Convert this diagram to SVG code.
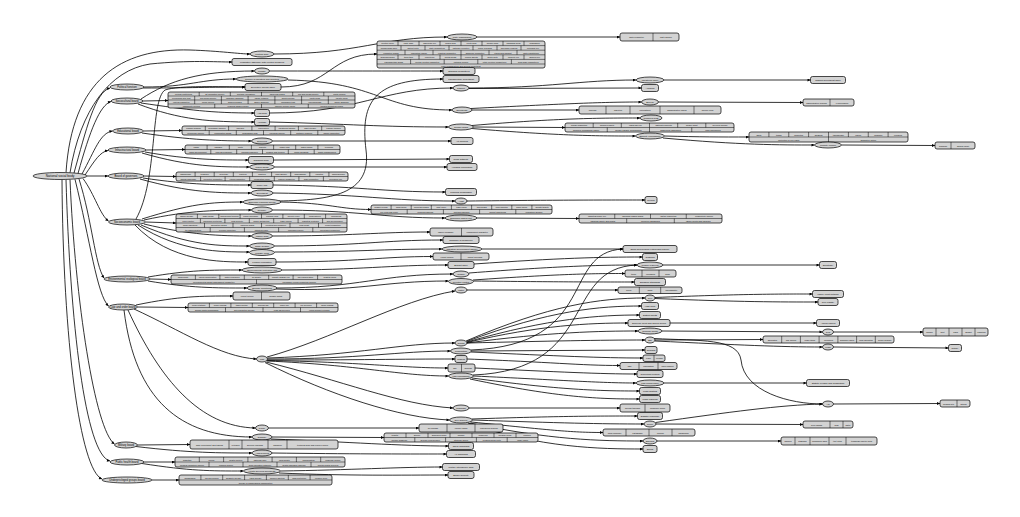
<svg xmlns="http://www.w3.org/2000/svg" width="1020" height="517" viewBox="0 0 1020 517">
<defs>
<marker id="a" viewBox="0 0 10 10" refX="10" refY="5" markerWidth="4" markerHeight="3" orient="auto" markerUnits="userSpaceOnUse"><path d="M0,0L10,5L0,10z" fill="#000"/></marker>
<style>
.n ellipse,.n rect{fill:#d3d3d3;stroke:#000;stroke-width:.7}
.n path{fill:none;stroke:#000;stroke-width:.5}
text{font-family:"Liberation Sans",Arial,sans-serif;font-size:2.3px;text-anchor:middle;dominant-baseline:central;fill:#000}
.r text{font-size:2.1px}
.k text{font-size:2.7px}
#n0 text{font-size:3.2px}
#edges path{fill:none;stroke:#000;stroke-width:.8;marker-end:url(#a)}
</style>
</defs>
<rect width="1020" height="517" fill="#fff"/>
<g id="edges">
<path d="M66,172.6 C72,80 120,48 190,50 C220,51 240,54 250,54"/>
<path d="M70,172.8 C80,110 110,70 150,64 C190,60 215,62 232,62"/>
<path d="M74,173 C86,130 95,92 110,88"/>
<path d="M78,173.5 C90,130 100,105 111,101.5"/>
<path d="M82,174 C95,150 100,133 112.5,131"/>
<path d="M85,175 C95,160 100,152 108,150.5"/>
<path d="M87,176 L108,176"/>
<path d="M83,178.5 C95,195 100,215 108.5,221"/>
<path d="M79,179 C92,220 95,265 104,278"/>
<path d="M75,179.3 C90,240 97,295 108.5,306"/>
<path d="M70,179.4 C75,300 95,430 114.5,444"/>
<path d="M66,179.5 C70,320 85,455 110,461"/>
<path d="M62,179.5 C63,340 80,470 102,479"/>
<path d="M144,87 C190,87 200,79 236,79"/>
<path d="M143,88 C190,88 210,87 245,87"/>
<path d="M143,101 L168,100.5"/>
<path d="M141,99 C170,80 200,71 254.5,71"/>
<path d="M141,103 C190,110 210,113 254.5,113"/>
<path d="M138,104 C180,120 210,122 254.5,122"/>
<path d="M143.5,131 L182,130.5"/>
<path d="M142,133 C190,140 220,141 251.5,141"/>
<path d="M146,150 L185,149.5"/>
<path d="M145,152 C190,160 220,160 248.5,160"/>
<path d="M142,153 C190,167 220,167 249.5,167"/>
<path d="M144,176 L176,176.5"/>
<path d="M143,178 C190,185 220,185 251,185"/>
<path d="M140,179 C190,193 220,193 251,193"/>
<path d="M145.5,222 L176,223"/>
<path d="M142,219 C190,204 210,202 243,202"/>
<path d="M144,220 C190,210 220,210 251.5,210"/>
<path d="M144,224 C190,235 220,236 251.5,236"/>
<path d="M141,225 C190,246 220,246 249.5,246"/>
<path d="M138,225 C180,252 220,252 249.5,252"/>
<path d="M135,225 C170,262 220,262 248,262"/>
<path d="M136,219 C158,180 150,100 165,90 C180,85 220,87 245,87"/>
<path d="M150,279 L171,279.5"/>
<path d="M148,277 C190,270 210,270 242,270"/>
<path d="M148,281 C190,288 215,288 247,288"/>
<path d="M137.5,307 L188,307.5"/>
<path d="M136,305 C180,296 200,296 233,296"/>
<path d="M134,309 C180,330 220,357 256.5,359"/>
<path d="M128,310 C160,380 200,427 255.5,428"/>
<path d="M124,310 C135,400 180,437 252,437"/>
<path d="M137.5,445 L190,444.5"/>
<path d="M136,446.5 C190,453 220,453 252,453"/>
<path d="M144,462 L175,462"/>
<path d="M142,463.5 C190,471 210,471 243.5,471"/>
<path d="M152,480 L179,480"/>
<path d="M274,54 C360,54 380,37 447,37"/>
<path d="M281,87 C330,87 330,54 377,54"/>
<path d="M269.5,71 C350,71 380,71 443,71"/>
<path d="M288,80 C380,82 380,110 452,110"/>
<path d="M269.5,113 C360,113 380,88 453,88"/>
<path d="M269.5,122 C350,124 380,127 448.5,127"/>
<path d="M272.5,141 L451,141"/>
<path d="M273.5,160 L449.5,159"/>
<path d="M274.5,167 L447,167"/>
<path d="M273,185 C360,186 380,192 445.5,192"/>
<path d="M273,193 C360,194 390,201 455,201"/>
<path d="M281,202 C330,203 340,209.5 371,209.5"/>
<path d="M279,201 C330,200 372,195 366,150 C360,100 375,79 443,79"/>
<path d="M272.5,210 C360,210 380,218 445,218"/>
<path d="M272.5,236 C350,236 380,232 430,232"/>
<path d="M274.5,246 C360,246 380,240 443,240"/>
<path d="M274.5,252 C360,252 380,249 442,249"/>
<path d="M276,262 C360,262 380,256.5 433,256.5"/>
<path d="M282,270 C360,270 390,265 448,265"/>
<path d="M277,288 C360,288 380,274 453,274"/>
<path d="M276,289 C360,292 380,281 448.5,281"/>
<path d="M267,357 C330,340 400,300 455,291"/>
<path d="M267.5,358 C360,355 400,343 455,343"/>
<path d="M267.5,359 C360,359 400,351 450.5,351"/>
<path d="M267.5,360 C360,360 400,359 455,359"/>
<path d="M267,360.5 C360,362 400,368 448,368"/>
<path d="M267,361 C360,365 400,376 448.5,376"/>
<path d="M266,362 C340,380 400,405 453,408"/>
<path d="M265,362.5 C330,395 400,418 449.5,420"/>
<path d="M268.5,428 L419,428"/>
<path d="M272,437 L384,437.5"/>
<path d="M271,439 C350,442 400,446 448.5,446"/>
<path d="M272,453 C350,454 400,454 446.5,454"/>
<path d="M280.5,471 C350,470 400,467 442.5,467"/>
<path d="M279,473 C350,476 400,475 448,475"/>
<path d="M477,37 L620,37"/>
<path d="M469,88 C550,88 580,80 636,80"/>
<path d="M469,88.5 L641.5,88"/>
<path d="M472,110 L579,110"/>
<path d="M471,108.5 C560,104 600,102 641.5,102"/>
<path d="M473.5,127 L565,127.5"/>
<path d="M472,125.5 C560,118 600,118 640,118"/>
<path d="M472,128.5 C560,136 600,136 635.5,136"/>
<path d="M467,201 C560,200 600,200 645,200"/>
<path d="M477,218 L579,218.5"/>
<path d="M482,249 L623,249"/>
<path d="M474,264 C560,258 600,257 642.5,257"/>
<path d="M469,273 C560,266 600,265 637,265"/>
<path d="M473,280 C560,274 590,273.5 625,273.5"/>
<path d="M473.5,281 C560,282 600,282 634.5,282"/>
<path d="M467,290 L618,290"/>
<path d="M466,341 C550,305 600,298 645,298"/>
<path d="M466.5,341.5 C550,310 600,306 641.5,306"/>
<path d="M467,342 C550,318 600,315 639.5,315"/>
<path d="M467,342.5 C540,325 590,323 628,323"/>
<path d="M467,343 C550,332 600,331 638,331"/>
<path d="M467,343 C550,341 600,340 645,340"/>
<path d="M471.5,351 L645,350"/>
<path d="M471,352 C560,356 600,358 643,358"/>
<path d="M467,359 C550,362 580,365.5 620,365.5"/>
<path d="M475,368 C560,372 600,374 637,374"/>
<path d="M473.5,376 C560,380 600,383 636,383"/>
<path d="M472,378 C560,390 600,391 639.5,391"/>
<path d="M470,379 C560,398 600,399 639.5,399"/>
<path d="M469,408 L620,408"/>
<path d="M472,419 C560,416 600,416 637.5,416"/>
<path d="M472.5,420 C560,423 600,424 644,424"/>
<path d="M471,422 C550,430 570,432.5 603,432.5"/>
<path d="M470,423 C550,440 600,441 643,441"/>
<path d="M468,423 C540,448 600,449 643,449"/>
<path d="M473,375 C600,370 560,268 637,265"/>
<path d="M471,350 C600,345 560,252 623,249"/>
<path d="M664,80 L810.5,80"/>
<path d="M658.5,102 L803,102.5"/>
<path d="M664.5,136 C700,137 720,137 749,137"/>
<path d="M663,138 C740,145 780,145 814.5,145"/>
<path d="M841.5,145 L935,145.5"/>
<path d="M663,265 L819.5,265"/>
<path d="M655,297.5 C740,294 780,294 812.5,294"/>
<path d="M655,298.5 C740,302 780,302 818,302"/>
<path d="M670,323 L816.5,323"/>
<path d="M662,331 L822.5,332"/>
<path d="M833.5,332 L923,332"/>
<path d="M655,340 L763,339.5"/>
<path d="M655,341 C740,345 780,347 822.5,347"/>
<path d="M833.5,347 L948.5,348"/>
<path d="M654,338.5 C700,341 738,338 741,360 C744,392 790,404 822.5,404"/>
<path d="M664,383 L806.5,383"/>
<path d="M656,424 L803,424.5"/>
<path d="M655.5,422.5 C730,412 780,405 822.5,404"/>
<path d="M833.5,404 L940,403.5"/>
<path d="M657,441 L781,441"/>
</g>

<g id="n0" class="n"><ellipse cx="60" cy="176" rx="27" ry="3.5"/><text x="60" y="176">National social body</text></g>
<g id="L1a" class="n k"><ellipse cx="127" cy="87" rx="17" ry="3"/><text x="127" y="87">Political function</text></g>
<g id="L1b" class="n k"><ellipse cx="127" cy="101" rx="16" ry="3"/><text x="127" y="101">Sociocultural board</text></g>
<g id="L1c" class="n k"><ellipse cx="128" cy="131" rx="15.5" ry="3"/><text x="128" y="131">Educational board</text></g>
<g id="L1d" class="n k"><ellipse cx="127" cy="150" rx="19" ry="3"/><text x="127" y="150">Infrastructural board</text></g>
<g id="L1e" class="n k"><ellipse cx="126" cy="176" rx="18" ry="3"/><text x="126" y="176">Board of governors</text></g>
<g id="L1f" class="n k"><ellipse cx="127" cy="222" rx="18.5" ry="3"/><text x="127" y="222">Socioeconomic board</text></g>
<g id="L1g" class="n k"><ellipse cx="127" cy="279" rx="23" ry="3"/><text x="127" y="279">Environmental ecological board</text></g>
<g id="L1h" class="n k"><ellipse cx="123" cy="307" rx="14.5" ry="3"/><text x="123" y="307">Law and order board</text></g>
<g id="L1i" class="n k"><ellipse cx="126" cy="445" rx="11.5" ry="3"/><text x="126" y="445">Military board</text></g>
<g id="L1j" class="n k"><ellipse cx="127" cy="462" rx="17" ry="3"/><text x="127" y="462">Public health board</text></g>
<g id="L1k" class="n k"><ellipse cx="127" cy="480" rx="25" ry="3"/><text x="127" y="480">Underprivileged groups board</text></g>

<g id="A1" class="n"><ellipse cx="262" cy="54" rx="12" ry="3"/><text x="262" y="54">Political body</text></g>
<g id="A2" class="n"><rect x="232" y="58.5" width="60" height="7" rx="2"/><text x="262" y="62">Legislative assembly with elected members</text></g>
<g id="A3" class="n"><ellipse cx="262" cy="71" rx="7.5" ry="3"/><text x="262" y="71">Ministry</text></g>
<g id="A4" class="n"><ellipse cx="262" cy="79" rx="26" ry="3"/><text x="262" y="79">Council of ministers and deputies</text></g>
<g id="A5" class="n"><rect x="245" y="83.5" width="36" height="7" rx="2"/><text x="263" y="87">Executive council office</text></g>
<g id="A6" class="n"><rect x="254.5" y="109.5" width="15" height="7" rx="2"/><text x="262" y="113">Arts desk</text></g>
<g id="A7" class="n"><rect x="254.5" y="118.5" width="15" height="7" rx="2"/><text x="262" y="122">Heritage</text></g>
<g id="A8" class="n"><ellipse cx="262" cy="141" rx="10.5" ry="3"/><text x="262" y="141">Schooling</text></g>
<g id="A9" class="n"><rect x="248.5" y="156.5" width="25" height="7" rx="2"/><text x="261" y="160">Transport desk</text></g>
<g id="A10" class="n"><ellipse cx="262" cy="167" rx="12.5" ry="3"/><text x="262" y="167">Public works</text></g>
<g id="A11" class="n"><rect x="251" y="181.5" width="22" height="7" rx="2"/><text x="262" y="185">Policy unit</text></g>
<g id="A12" class="n"><ellipse cx="262" cy="193" rx="11" ry="3"/><text x="262" y="193">Secretariat</text></g>
<g id="A13" class="n"><ellipse cx="262" cy="202" rx="19" ry="3"/><text x="262" y="202">Economic planning council</text></g>
<g id="A14" class="n"><ellipse cx="262" cy="210" rx="10.5" ry="3"/><text x="262" y="210">Treasury</text></g>
<g id="A15" class="n"><ellipse cx="262" cy="236" rx="10.5" ry="3"/><text x="262" y="236">Labour desk</text></g>
<g id="A16" class="n"><ellipse cx="262" cy="246" rx="12.5" ry="3"/><text x="262" y="246">Trade division</text></g>
<g id="A17" class="n"><ellipse cx="262" cy="252.5" rx="12.5" ry="3"/><text x="262" y="252.5">Industry wing</text></g>
<g id="A18" class="n"><rect x="248" y="258.5" width="28" height="7" rx="2"/><text x="262" y="262">Finance committee</text></g>
<g id="A19" class="n"><ellipse cx="262" cy="270" rx="20" ry="3"/><text x="262" y="270">Environmental protection unit</text></g>
<g id="A20" class="n"><ellipse cx="262" cy="288" rx="15" ry="3"/><text x="262" y="288">Ecology monitoring</text></g>
<g id="A21" class="n"><ellipse cx="262" cy="359" rx="5.5" ry="3"/><text x="262" y="359">Law</text></g>
<g id="A22" class="n"><ellipse cx="262" cy="428" rx="6.5" ry="3"/><text x="262" y="428">Police</text></g>
<g id="A23" class="n"><ellipse cx="262" cy="437" rx="10" ry="3"/><text x="262" y="437">Judiciary</text></g>
<g id="A24" class="n"><ellipse cx="262" cy="453" rx="10" ry="3"/><text x="262" y="453">Armed forces</text></g>
<g id="A25" class="n"><ellipse cx="262" cy="471" rx="18.5" ry="3"/><text x="262" y="471">Health services directorate</text></g>

<g id="R1" class="n r"><rect x="168" y="92" width="187" height="16" rx="2"/><path d="M168 96H355M168 100H355M168 104H355M199.2 92V96M230.3 92V96M261.5 92V96M292.7 92V96M323.8 92V96M194.7 96V104M221.4 96V104M248.1 96V104M274.9 96V104M301.6 96V104M328.3 96V104M214.75 104V108M261.5 104V108M308.25 104V108"/>
<text x="183.6" y="94">cultural institutions</text><text x="214.8" y="94">art promotion society</text><text x="245.9" y="94">heritage foundation</text><text x="277.1" y="94">museums board</text><text x="308.2" y="94">film and media society</text><text x="339.4" y="94">crafts council</text>
<text x="181.4" y="98">performing arts trust</text><text x="208.1" y="98">folk music society</text><text x="234.8" y="98">language academy</text><text x="261.5" y="98">library network</text><text x="288.2" y="98">sports council</text><text x="314.9" y="98">youth clubs</text><text x="341.6" y="98">theatre guild</text>
<text x="181.4" y="102">festival committee</text><text x="208.1" y="102">press council</text><text x="234.8" y="102">archives board</text><text x="261.5" y="102">dance academy</text><text x="288.2" y="102">publishing trust</text><text x="314.9" y="102">cinema board</text><text x="341.6" y="102">music academy</text>
<text x="191.4" y="106">community centres</text><text x="238.1" y="106">religious affairs council</text><text x="284.9" y="106">minority culture forum</text><text x="331.6" y="106">tourism promotion board</text></g>

<g id="R2" class="n r"><rect x="182" y="126" width="163" height="9" rx="2"/><path d="M182 130.5H345M205.3 126V130.5M228.6 126V130.5M251.9 126V130.5M275.1 126V130.5M298.4 126V130.5M321.7 126V130.5M209.2 130.5V135M236.3 130.5V135M263.5 130.5V135M290.7 130.5V135M317.8 130.5V135"/>
<text x="193.6" y="128.25">primary schools</text><text x="216.9" y="128.25">secondary schools</text><text x="240.2" y="128.25">colleges</text><text x="263.5" y="128.25">universities</text><text x="286.8" y="128.25">vocational training</text><text x="310.1" y="128.25">adult literacy</text><text x="333.4" y="128.25">teacher training</text>
<text x="195.6" y="132.75">curriculum council</text><text x="222.7" y="132.75">examination board</text><text x="249.9" y="132.75">scholarship fund</text><text x="277.1" y="132.75">research council</text><text x="304.2" y="132.75">distance learning</text><text x="331.4" y="132.75">school inspection</text></g>

<g id="R3" class="n r"><rect x="185" y="145" width="155" height="9" rx="2"/><path d="M185 149.5H340M207.1 145V149.5M229.3 145V149.5M251.4 145V149.5M273.6 145V149.5M295.7 145V149.5M317.9 145V149.5M210.8 149.5V154M236.7 149.5V154M262.5 149.5V154M288.3 149.5V154M314.2 149.5V154"/>
<text x="196.1" y="147.25">roads</text><text x="218.2" y="147.25">railways</text><text x="240.4" y="147.25">ports</text><text x="262.5" y="147.25">airports</text><text x="284.6" y="147.25">power grid</text><text x="306.8" y="147.25">water supply</text><text x="328.9" y="147.25">telecoms</text>
<text x="197.9" y="151.75">urban development</text><text x="223.8" y="151.75">rural development</text><text x="249.6" y="151.75">housing schemes</text><text x="275.4" y="151.75">bridges and tunnels</text><text x="301.3" y="151.75">public buildings</text><text x="327.1" y="151.75">waste management</text></g>

<g id="R4" class="n r"><rect x="176" y="172" width="172" height="9" rx="2"/><path d="M176 176.5H348M195.1 172V176.5M214.2 172V176.5M233.3 172V176.5M252.4 172V176.5M271.6 172V176.5M290.7 172V176.5M309.8 172V176.5M328.9 172V176.5M200.6 176.5V181M225.1 176.5V181M249.7 176.5V181M274.3 176.5V181M298.9 176.5V181M323.4 176.5V181"/>
<text x="185.6" y="174.25">chairperson</text><text x="204.7" y="174.25">treasurer</text><text x="223.8" y="174.25">secretary</text><text x="242.9" y="174.25">trustees</text><text x="262" y="174.25">auditors</text><text x="281.1" y="174.25">legal adviser</text><text x="300.2" y="174.25">ombudsman</text><text x="319.3" y="174.25">registrar</text><text x="338.4" y="174.25">spokesperson</text>
<text x="188.3" y="178.75">annual assembly</text><text x="212.9" y="178.75">executive committee</text><text x="237.4" y="178.75">ethics committee</text><text x="262" y="178.75">nomination panel</text><text x="286.6" y="178.75">finance committee</text><text x="311.1" y="178.75">audit committee</text><text x="335.7" y="178.75">grievance cell</text></g>

<g id="R5" class="n r"><rect x="176" y="214" width="171" height="18" rx="2"/><path d="M176 218.5H347M176 223H347M176 227.5H347M197.4 214V218.5M218.8 214V218.5M240.1 214V218.5M261.5 214V218.5M282.9 214V218.5M304.3 214V218.5M325.6 214V218.5M200.4 218.5V223M224.9 218.5V223M249.3 218.5V223M273.7 218.5V223M298.1 218.5V223M322.6 218.5V223M204.5 223V227.5M233 223V227.5M261.5 223V227.5M290 223V227.5M318.5 223V227.5M210.2 227.5V232M244.4 227.5V232M278.6 227.5V232M312.8 227.5V232"/>
<text x="186.7" y="216.25">labour welfare</text><text x="208.1" y="216.25">wage board</text><text x="229.4" y="216.25">employment bureau</text><text x="250.8" y="216.25">social insurance</text><text x="272.2" y="216.25">pension fund</text><text x="293.6" y="216.25">poverty relief</text><text x="314.9" y="216.25">cooperatives</text><text x="336.3" y="216.25">microcredit</text>
<text x="188.2" y="220.75">price control</text><text x="212.6" y="220.75">consumer protection</text><text x="237.1" y="220.75">food security</text><text x="261.5" y="220.75">public distribution</text><text x="285.9" y="220.75">trade unions</text><text x="310.4" y="220.75">industrial relations</text><text x="334.8" y="220.75">skill development</text>
<text x="190.25" y="225.25">small industries</text><text x="218.75" y="225.25">agriculture board</text><text x="247.25" y="225.25">fisheries board</text><text x="275.75" y="225.25">livestock development</text><text x="304.25" y="225.25">rural credit</text><text x="332.75" y="225.25">export promotion</text>
<text x="193.1" y="229.75">tax administration</text><text x="227.3" y="229.75">revenue collection</text><text x="261.5" y="229.75">statistics office</text><text x="295.7" y="229.75">economic survey</text><text x="329.9" y="229.75">investment promotion</text></g>

<g id="R6" class="n r"><rect x="171" y="275" width="171" height="9" rx="2"/><path d="M171 279.5H342M195.4 275V279.5M219.9 275V279.5M244.3 275V279.5M268.7 275V279.5M293.1 275V279.5M317.6 275V279.5M256.5 279.5V284"/>
<text x="183.2" y="277.25">biodiversity</text><text x="207.6" y="277.25">forest conservation</text><text x="232.1" y="277.25">water resources</text><text x="256.5" y="277.25">air quality</text><text x="280.9" y="277.25">climate change cell</text><text x="305.4" y="277.25">soil conservation</text><text x="329.8" y="277.25">coastal zones</text>
<text x="213.75" y="281.75">environmental impact assessment committee</text><text x="299.25" y="281.75">renewable energy promotion agency</text></g>

<g id="R7" class="n r"><rect x="233" y="292" width="57" height="8" rx="2"/><path d="M261.5 292V300"/><text x="247.25" y="296">Forest service</text><text x="275.75" y="296">Climate watch</text></g>

<g id="R8" class="n r"><rect x="188" y="303" width="150" height="9" rx="2"/><path d="M188 307.5H338M209.4 303V307.5M230.9 303V307.5M252.3 303V307.5M273.7 303V307.5M295.1 303V307.5M316.6 303V307.5M225.5 307.5V312M263 307.5V312M300.5 307.5V312"/>
<text x="198.7" y="305.25">police stations</text><text x="220.1" y="305.25">crime records</text><text x="241.6" y="305.25">traffic control</text><text x="263" y="305.25">forensic lab</text><text x="284.4" y="305.25">cyber cell</text><text x="305.9" y="305.25">fire services</text><text x="327.3" y="305.25">home guards</text>
<text x="206.75" y="309.75">human rights commission</text><text x="244.25" y="309.75">anti-corruption bureau</text><text x="281.75" y="309.75">legal aid services</text><text x="319.25" y="309.75">victim support network</text></g>

<g id="R9" class="n r"><rect x="190" y="440" width="148" height="9" rx="2"/><path d="M229 440V449M242 440V449M268 440V449M287 440V449"/>
<text x="209.5" y="444.5">army recruitment and training</text><text x="235.5" y="444.5">veterans</text><text x="255" y="444.5">defence research</text><text x="277.5" y="444.5">ordnance</text><text x="312.5" y="444.5">territorial army and reserve forces</text></g>

<g id="R10" class="n r"><rect x="175" y="457" width="170" height="10" rx="2"/><path d="M175 462H345M199.3 457V462M223.6 457V462M247.9 457V462M272.1 457V462M296.4 457V462M320.7 457V462M209 462V467M243 462V467M277 462V467M311 462V467"/>
<text x="187.1" y="459.5">hospitals</text><text x="211.4" y="459.5">clinics</text><text x="235.7" y="459.5">health centres</text><text x="260" y="459.5">maternal care</text><text x="284.3" y="459.5">child health</text><text x="308.6" y="459.5">immunisation</text><text x="332.9" y="459.5">epidemic control</text>
<text x="192" y="464.5">medical education council</text><text x="226" y="464.5">nursing council</text><text x="260" y="464.5">drug regulation authority</text><text x="294" y="464.5">health insurance scheme</text><text x="328" y="464.5">mental health services</text></g>

<g id="R11" class="n r"><rect x="179" y="475" width="153" height="10" rx="2"/><path d="M179 480H332M200.9 475V480M222.7 475V480M244.6 475V480M266.4 475V480M288.3 475V480M310.1 475V480"/>
<text x="189.9" y="477.5">orphanages</text><text x="211.8" y="477.5">old age homes</text><text x="233.6" y="477.5">disability welfare</text><text x="255.5" y="477.5">tribal welfare</text><text x="277.4" y="477.5">women shelters</text><text x="299.2" y="477.5">child protection</text><text x="321.1" y="477.5">refugee relief</text>
<text x="255.5" y="482.5">welfare of marginalised communities</text></g>

<g id="B1" class="n"><ellipse cx="462" cy="37" rx="15" ry="3"/><text x="462" y="37">Party organisation</text></g>
<g id="R12" class="n r"><rect x="377" y="41" width="168" height="27" rx="2"/><path d="M377 45.6H545M377 50.2H545M377 54.8H545M377 59.4H545M377 64H545M398 41V45.6M419 41V45.6M440 41V45.6M461 41V45.6M482 41V45.6M503 41V45.6M524 41V45.6M401 45.6V50.2M425 45.6V50.2M449 45.6V50.2M473 45.6V50.2M497 45.6V50.2M521 45.6V50.2M405 50.2V54.8M433 50.2V54.8M461 50.2V54.8M489 50.2V54.8M517 50.2V54.8M398 54.8V59.4M419 54.8V59.4M440 54.8V59.4M461 54.8V59.4M482 54.8V59.4M503 54.8V59.4M524 54.8V59.4M410.6 59.4V64M444.2 59.4V64M477.8 59.4V64M511.4 59.4V64"/>
<text x="387.5" y="43.3">election office</text><text x="408.5" y="43.3">party whip</text><text x="429.5" y="43.3">manifesto cell</text><text x="450.5" y="43.3">media wing</text><text x="471.5" y="43.3">youth wing</text><text x="492.5" y="43.3">women wing</text><text x="513.5" y="43.3">campaign desk</text><text x="534.5" y="43.3">fundraising</text>
<text x="389" y="47.9">membership drive</text><text x="413" y="47.9">district units</text><text x="437" y="47.9">state committees</text><text x="461" y="47.9">national executive</text><text x="485" y="47.9">policy research</text><text x="509" y="47.9">grievance redress</text><text x="533" y="47.9">outreach cell</text>
<text x="391" y="52.5">legislative affairs</text><text x="419" y="52.5">opposition liaison</text><text x="447" y="52.5">coalition committee</text><text x="475" y="52.5">discipline committee</text><text x="503" y="52.5">ethics and conduct</text><text x="531" y="52.5">party constitution</text>
<text x="387.5" y="57.1">spokespersons</text><text x="408.5" y="57.1">think tank</text><text x="429.5" y="57.1">volunteers</text><text x="450.5" y="57.1">social media</text><text x="471.5" y="57.1">polling agents</text><text x="492.5" y="57.1">booth units</text><text x="513.5" y="57.1">minority cell</text><text x="534.5" y="57.1">farmers cell</text>
<text x="393.8" y="61.7">parliamentary board</text><text x="427.4" y="61.7">central election committee</text><text x="461" y="61.7">national council</text><text x="494.6" y="61.7">state election committees</text><text x="528.2" y="61.7">local body committees</text>
<text x="461" y="66">party headquarters and general secretariat</text></g>

<g id="B2" class="n"><rect x="443" y="67.5" width="32" height="7" rx="2"/><text x="459" y="71">Standing committees</text></g>
<g id="B3" class="n"><rect x="443" y="75.5" width="36" height="7" rx="2"/><text x="461" y="79">Parliamentary secretariat</text></g>
<g id="B4" class="n"><ellipse cx="461" cy="88" rx="8" ry="3"/><text x="461" y="88">Cabinet</text></g>
<g id="B5" class="n"><ellipse cx="462" cy="110" rx="10" ry="3"/><text x="462" y="110">Directorate</text></g>
<g id="B6" class="n"><ellipse cx="461" cy="127" rx="12.5" ry="3"/><text x="461" y="127">Gender board</text></g>
<g id="B7" class="n"><rect x="451" y="137.5" width="22" height="7" rx="2"/><text x="462" y="141">Art councils</text></g>
<g id="B8" class="n"><rect x="449.5" y="155.5" width="23" height="7" rx="2"/><text x="461" y="159">Road authority</text></g>
<g id="B9" class="n"><rect x="447" y="163.5" width="30" height="7" rx="2"/><text x="462" y="167">Housing corporation</text></g>
<g id="B10" class="n"><rect x="445.5" y="188.5" width="31" height="7" rx="2"/><text x="461" y="192">Planning commission</text></g>
<g id="B11" class="n"><ellipse cx="461" cy="201" rx="6" ry="3"/><text x="461" y="201">Audit</text></g>

<g id="R13" class="n r"><rect x="371" y="205" width="181" height="9" rx="2"/><path d="M371 209.5H552M391.1 205V209.5M411.2 205V209.5M431.3 205V209.5M451.4 205V209.5M471.6 205V209.5M491.7 205V209.5M511.8 205V209.5M531.9 205V209.5M407.2 209.5V214M443.4 209.5V214M479.6 209.5V214M515.8 209.5V214"/>
<text x="381.1" y="207.25">budget review</text><text x="401.2" y="207.25">fiscal policy</text><text x="421.3" y="207.25">monetary board</text><text x="441.3" y="207.25">debt office</text><text x="461.5" y="207.25">trade policy</text><text x="481.7" y="207.25">tariff board</text><text x="501.8" y="207.25">price monitor</text><text x="521.8" y="207.25">wage policy</text><text x="542" y="207.25">growth targets</text>
<text x="389.1" y="211.75">five year plan office</text><text x="425.3" y="211.75">regional planning</text><text x="461.5" y="211.75">sectoral planning</text><text x="497.7" y="211.75">project monitoring</text><text x="533.9" y="211.75">evaluation division</text></g>

<g id="B12" class="n"><ellipse cx="461" cy="218" rx="16" ry="3"/><text x="461" y="218">Economic affairs unit</text></g>
<g id="R14" class="n r"><rect x="430" y="228" width="63" height="8" rx="2"/><path d="M461.5 228V236"/><text x="445.75" y="232">labour exchange</text><text x="477.25" y="232">employment guarantee</text></g>
<g id="B13" class="n"><rect x="443" y="236.5" width="36" height="7" rx="2"/><text x="461" y="240">Chamber of commerce</text></g>
<g id="B14" class="n"><ellipse cx="462" cy="249" rx="20" ry="3"/><text x="462" y="249">Industrial development agency</text></g>
<g id="R15" class="n r"><rect x="433" y="253" width="56" height="7" rx="2"/><path d="M461 253V260"/><text x="447" y="256.5">export council</text><text x="475" y="256.5">import licensing</text></g>
<g id="B15" class="n"><rect x="448" y="261.5" width="26" height="7" rx="2"/><text x="461" y="265">Budget office</text></g>
<g id="B16" class="n"><ellipse cx="461" cy="274" rx="8" ry="3"/><text x="461" y="274">Wildlife</text></g>
<g id="B17" class="n"><ellipse cx="461" cy="281.5" rx="12.5" ry="3"/><text x="461" y="281.5">Pollution control</text></g>
<g id="B18" class="n"><ellipse cx="461" cy="290" rx="6" ry="3"/><text x="461" y="290">Water</text></g>
<g id="B19" class="n"><ellipse cx="461" cy="343" rx="6" ry="3"/><text x="461" y="343">Courts</text></g>
<g id="B20" class="n"><ellipse cx="461" cy="351" rx="10.5" ry="3"/><text x="461" y="351">Prosecution</text></g>
<g id="B21" class="n"><rect x="455" y="355.5" width="12" height="7" rx="2"/><text x="461" y="359">Prisons</text></g>
<g id="R16" class="n r"><rect x="448" y="364" width="27" height="8" rx="2"/><path d="M461.5 364V372"/><text x="454.75" y="368">bail</text><text x="468.25" y="368">appeals</text></g>
<g id="B22" class="n"><ellipse cx="461" cy="376" rx="12.5" ry="3"/><text x="461" y="376">Law commission</text></g>
<g id="B23" class="n"><ellipse cx="461" cy="408" rx="8" ry="3"/><text x="461" y="408">Tribunals</text></g>
<g id="B24" class="n"><ellipse cx="461" cy="420" rx="11.5" ry="3"/><text x="461" y="420">Civil defence</text></g>
<g id="R17" class="n r"><rect x="419" y="424" width="84" height="8" rx="2"/><path d="M447 424V432M475 424V432"/><text x="433" y="428">fire brigade</text><text x="461" y="428">rescue teams</text><text x="489" y="428">emergency helpline</text></g>
<g id="R18" class="n r"><rect x="384" y="433" width="154" height="9" rx="2"/><path d="M384 437.5H538M406 433V437.5M428 433V437.5M450 433V437.5M472 433V437.5M494 433V437.5M516 433V437.5M414.8 437.5V442M445.6 437.5V442M476.4 437.5V442M507.2 437.5V442"/>
<text x="395" y="435.25">infantry</text><text x="417" y="435.25">artillery</text><text x="439" y="435.25">armoured corps</text><text x="461" y="435.25">signals</text><text x="483" y="435.25">engineers</text><text x="505" y="435.25">medical corps</text><text x="527" y="435.25">logistics</text>
<text x="399.4" y="439.75">military academy</text><text x="430.2" y="439.75">defence procurement</text><text x="461" y="439.75">strategic forces</text><text x="491.8" y="439.75">peacekeeping units</text><text x="522.6" y="439.75">cadet corps</text></g>
<g id="B25" class="n"><rect x="448.5" y="442.5" width="25" height="7" rx="2"/><text x="461" y="446">Naval command</text></g>
<g id="B26" class="n"><rect x="446.5" y="450.5" width="29" height="7" rx="2"/><text x="461" y="454">Air command</text></g>
<g id="B27" class="n"><rect x="442.5" y="463.5" width="37" height="7" rx="2"/><text x="461" y="467">Military intelligence wing</text></g>
<g id="B28" class="n"><rect x="448" y="471.5" width="26" height="7" rx="2"/><text x="461" y="475">Border security</text></g>

<g id="C1" class="n r"><rect x="620" y="33" width="59" height="8" rx="2"/><path d="M653 33V41"/><text x="636.5" y="37">party newsletter</text><text x="666" y="37">party archive</text></g>
<g id="C2" class="n"><ellipse cx="650" cy="80" rx="14" ry="3"/><text x="650" y="80">Ministerial panel</text></g>
<g id="C3" class="n"><rect x="641.5" y="84.5" width="17" height="7" rx="2"/><text x="650" y="88">Advisors</text></g>
<g id="C4" class="n"><ellipse cx="650" cy="102" rx="8.5" ry="3"/><text x="650" y="102">Bureau</text></g>
<g id="R19" class="n r"><rect x="579" y="106" width="142" height="8" rx="2"/><path d="M606 106V114M630 106V114M660 106V114M694 106V114"/><text x="592.5" y="110">circulars</text><text x="618" y="110">gazettes</text><text x="645" y="110">notifications</text><text x="677" y="110">administrative orders</text><text x="707.5" y="110">service rules</text></g>
<g id="C5" class="n"><ellipse cx="651" cy="118" rx="11" ry="3"/><text x="651" y="118">Women's desk</text></g>
<g id="R20" class="n r"><rect x="565" y="123" width="169" height="9" rx="2"/><path d="M565 127.5H734M593.2 123V127.5M621.3 123V127.5M649.5 123V127.5M677.7 123V127.5M705.8 123V127.5M607.25 127.5V132M649.5 127.5V132M691.75 127.5V132"/>
<text x="579.1" y="125.25">gender budgeting</text><text x="607.2" y="125.25">women's safety</text><text x="635.4" y="125.25">equal pay cell</text><text x="663.6" y="125.25">maternity benefits</text><text x="691.7" y="125.25">gender audit</text><text x="719.9" y="125.25">self help groups</text>
<text x="586.1" y="129.75">women's commission liaison</text><text x="628.4" y="129.75">gender equality programmes</text><text x="670.6" y="129.75">awareness campaigns</text><text x="712.9" y="129.75">legal counselling</text></g>
<g id="C6" class="n"><ellipse cx="650" cy="136" rx="14.5" ry="3"/><text x="650" y="136">Equality commission</text></g>
<g id="R21" class="n r"><rect x="749" y="132" width="159" height="10" rx="2"/><path d="M749 137H908M768.9 132V137M788.75 132V137M808.6 132V137M828.5 132V137M848.4 132V137M868.25 132V137M888.1 132V137M828.5 137V142"/>
<text x="758.9" y="134.5">dalits</text><text x="778.8" y="134.5">tribals</text><text x="798.7" y="134.5">minorities</text><text x="818.6" y="134.5">disabled</text><text x="838.4" y="134.5">transgender</text><text x="858.3" y="134.5">elderly</text><text x="878.2" y="134.5">migrants</text><text x="898.1" y="134.5">refugees</text>
<text x="788.75" y="139.5">protection of civil rights</text><text x="868.25" y="139.5">affirmative action</text></g>
<g id="C7" class="n"><ellipse cx="828" cy="145" rx="13.5" ry="3"/><text x="828" y="145">Minority council</text></g>
<g id="R22" class="n r"><rect x="935" y="142" width="40" height="7" rx="2"/><path d="M951 142V149"/><text x="943" y="145.5">hearings</text><text x="963" y="145.5">annual report</text></g>
<g id="C8" class="n"><rect x="810.5" y="76.5" width="35" height="7" rx="2"/><text x="828" y="80">Cabinet secretariat office</text></g>
<g id="R23" class="n r"><rect x="803" y="99" width="51" height="7" rx="2"/><path d="M830 99V106"/><text x="816.5" y="102.5">administrative reforms</text><text x="842" y="102.5">e-governance</text></g>
<g id="C9" class="n"><rect x="645" y="196.5" width="12" height="7" rx="2"/><text x="651" y="200">Review</text></g>
<g id="R24" class="n r"><rect x="579" y="214" width="143" height="9" rx="2"/><path d="M579 218.5H722M614.75 214V218.5M650.5 214V218.5M686.25 214V218.5M626.7 218.5V223M674.3 218.5V223"/>
<text x="596.9" y="216.25">industrial policy cell</text><text x="632.6" y="216.25">minimum wages board</text><text x="668.4" y="216.25">factory inspection</text><text x="704.1" y="216.25">productivity council</text>
<text x="602.8" y="220.75">industrial safety and health</text><text x="650.5" y="220.75">collective bargaining</text><text x="698.2" y="220.75">labour courts and tribunals</text></g>
<g id="C10" class="n"><rect x="623" y="245.5" width="54" height="7" rx="2"/><text x="650" y="249">Small and medium enterprises agency</text></g>
<g id="C11" class="n"><rect x="642.5" y="253.5" width="15" height="7" rx="2"/><text x="650" y="257">Customs</text></g>
<g id="C12" class="n"><ellipse cx="650" cy="265" rx="13" ry="3"/><text x="650" y="265">Wildlife reserves</text></g>
<g id="C13" class="n"><rect x="819.5" y="261.5" width="17" height="7" rx="2"/><text x="828" y="265">Sanctuary</text></g>
<g id="R25" class="n r"><rect x="625" y="270" width="51" height="7" rx="2"/><path d="M642 270V277M659 270V277"/><text x="633.5" y="273.5">tigers</text><text x="650.5" y="273.5">elephants</text><text x="667.5" y="273.5">birds</text></g>
<g id="C14" class="n"><rect x="634.5" y="278.5" width="31" height="7" rx="2"/><text x="650" y="282">Emission standards</text></g>
<g id="R26" class="n r"><rect x="618" y="287" width="64" height="6.5" rx="2"/><path d="M639.3 287V293.5M660.7 287V293.5"/><text x="628.7" y="290.25">rivers</text><text x="650" y="290.25">lakes</text><text x="671.3" y="290.25">groundwater</text></g>
<g id="C15" class="n"><ellipse cx="650" cy="298" rx="5" ry="3"/><text x="650" y="298">Civil</text></g>
<g id="C16" class="n"><rect x="812.5" y="290.5" width="31" height="7" rx="2"/><text x="828" y="294">Family court network</text></g>
<g id="C17" class="n"><rect x="818" y="298.5" width="20" height="7" rx="2"/><text x="828" y="302">Civil registry</text></g>
<g id="C18" class="n"><rect x="641.5" y="302.5" width="17" height="7" rx="2"/><text x="650" y="306">High court</text></g>
<g id="C19" class="n"><rect x="639.5" y="311.5" width="21" height="7" rx="2"/><text x="650" y="315">District courts</text></g>
<g id="C20" class="n"><rect x="628" y="319.5" width="42" height="7" rx="2"/><text x="649" y="323">Supreme court and appeal bench</text></g>
<g id="C21" class="n"><rect x="816.5" y="319.5" width="23" height="7" rx="2"/><text x="828" y="323">Appeal panels</text></g>
<g id="C22" class="n"><ellipse cx="650" cy="331" rx="12" ry="3"/><text x="650" y="331">Criminal courts</text></g>
<g id="C23" class="n"><ellipse cx="828" cy="332" rx="5.5" ry="3"/><text x="828" y="332">Trial</text></g>
<g id="R27" class="n r"><rect x="923" y="328" width="65" height="8" rx="2"/><path d="M936 328V336M949 328V336M962 328V336M975 328V336"/><text x="929.5" y="332">murder</text><text x="942.5" y="332">theft</text><text x="955.5" y="332">fraud</text><text x="968.5" y="332">assault</text><text x="981.5" y="332">narcotics</text></g>
<g id="C24" class="n"><ellipse cx="650" cy="340" rx="5" ry="3"/><text x="650" y="340">Bar</text></g>
<g id="R28" class="n r"><rect x="763" y="336" width="131" height="7" rx="2"/><path d="M781.7 336V343M800.4 336V343M819.1 336V343M837.9 336V343M856.6 336V343M875.3 336V343"/><text x="772.4" y="339.5">advocates</text><text x="791.1" y="339.5">bar council</text><text x="809.8" y="339.5">legal ethics</text><text x="828.5" y="339.5">enrolment</text><text x="847.2" y="339.5">discipline panel</text><text x="866" y="339.5">legal education</text><text x="884.7" y="339.5">senior counsel</text></g>
<g id="C25" class="n"><ellipse cx="828" cy="347" rx="5.5" ry="3"/><text x="828" y="347">Legal</text></g>
<g id="C26" class="n"><rect x="948.5" y="344.5" width="13" height="7" rx="2"/><text x="955" y="348">Notary</text></g>
<g id="C27" class="n"><rect x="645" y="346.5" width="12" height="7" rx="2"/><text x="651" y="350">Remand</text></g>
<g id="R29" class="n r"><rect x="643" y="355" width="22" height="6.5" rx="2"/><path d="M654 355V361.5"/><text x="648.5" y="358.25">leave</text><text x="659.5" y="358.25">release</text></g>
<g id="R30" class="n r"><rect x="620" y="362.5" width="57" height="7" rx="2"/><path d="M639 362.5V369.5M658 362.5V369.5"/><text x="629.5" y="366">jails</text><text x="648.5" y="366">reformatory</text><text x="667.5" y="366">open prisons</text></g>
<g id="C28" class="n"><rect x="637" y="370.5" width="26" height="7" rx="2"/><text x="650" y="374">Correction centres</text></g>
<g id="C29" class="n"><ellipse cx="650" cy="383" rx="14" ry="3"/><text x="650" y="383">Law reform panel</text></g>
<g id="C30" class="n"><rect x="806.5" y="379.5" width="43" height="7" rx="2"/><text x="828" y="383">Statute revision and codification</text></g>
<g id="C31" class="n"><rect x="639.5" y="387.5" width="21" height="7" rx="2"/><text x="650" y="391">Legal drafting</text></g>
<g id="C32" class="n"><rect x="639.5" y="395.5" width="21" height="7" rx="2"/><text x="650" y="399">Legal research</text></g>
<g id="R31" class="n r"><rect x="620" y="404" width="50" height="8" rx="2"/><path d="M645 404V412"/><text x="632.5" y="408">special tribunals</text><text x="657.5" y="408">consumer forum</text></g>
<g id="C33" class="n"><rect x="637.5" y="412.5" width="25" height="7" rx="2"/><text x="650" y="416">Disaster response</text></g>
<g id="C34" class="n"><ellipse cx="650" cy="424" rx="6" ry="3"/><text x="650" y="424">Relief</text></g>
<g id="R32" class="n r"><rect x="803" y="421" width="50" height="7" rx="2"/><path d="M830 421V428M843 421V428"/><text x="816.5" y="424.5">relief camps</text><text x="836.5" y="424.5">food</text><text x="848" y="424.5">water</text></g>
<g id="R33" class="n r"><rect x="603" y="429" width="92" height="7" rx="2"/><path d="M626 429V436M649 429V436M672 429V436"/><text x="614.5" y="432.5">flood response</text><text x="637.5" y="432.5">earthquake</text><text x="660.5" y="432.5">cyclone</text><text x="683.5" y="432.5">pandemics</text></g>
<g id="C35" class="n"><ellipse cx="650" cy="441" rx="7" ry="3"/><text x="650" y="441">Shelters</text></g>
<g id="R34" class="n r"><rect x="781" y="437" width="96" height="8" rx="2"/><path d="M795 437V445M810 437V445M829 437V445M846 437V445"/><text x="788" y="441">schools</text><text x="802.5" y="441">stadiums</text><text x="819.5" y="441">community halls</text><text x="837.5" y="441">tent cities</text><text x="861.5" y="441">temporary shelter units</text></g>
<g id="C36" class="n"><rect x="643" y="445.5" width="14" height="7" rx="2"/><text x="650" y="449">Sirens</text></g>
<g id="C37" class="n"><ellipse cx="828" cy="404" rx="5.5" ry="3"/><text x="828" y="404">Aid</text></g>
<g id="R35" class="n r"><rect x="940" y="400" width="30" height="7" rx="2"/><path d="M957 400V407"/><text x="948.5" y="403.5">medical kits</text><text x="963.5" y="403.5">rations</text></g>
</svg>
